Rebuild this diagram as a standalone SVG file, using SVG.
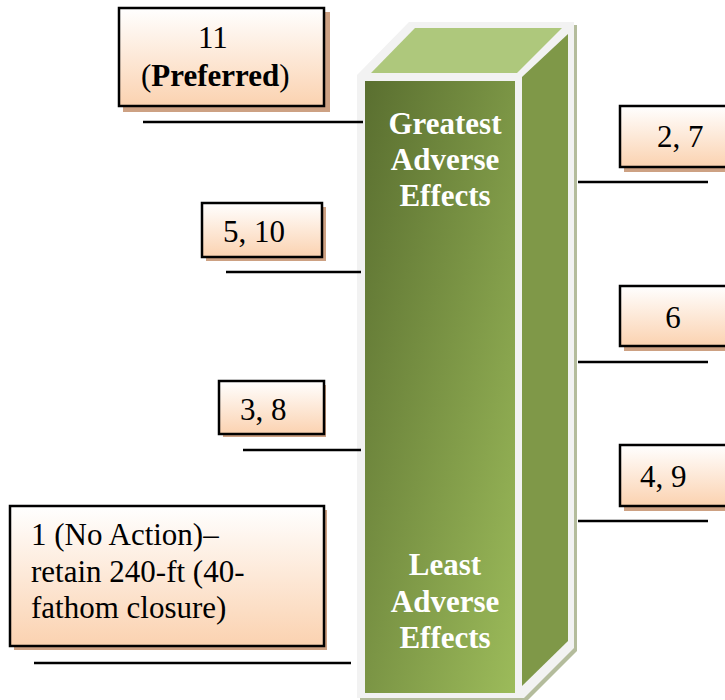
<svg xmlns="http://www.w3.org/2000/svg" width="725" height="700" viewBox="0 0 725 700">
<defs>
<linearGradient id="peach" x1="0" y1="0" x2="0" y2="1">
<stop offset="0" stop-color="#ffffff"/>
<stop offset="1" stop-color="#fbd2b0"/>
</linearGradient>
<linearGradient id="front" x1="0" y1="0" x2="1" y2="1">
<stop offset="0" stop-color="#5a6f30"/>
<stop offset="1" stop-color="#9cbb5a"/>
</linearGradient>
</defs>
<style>
.box{fill:url(#peach);stroke:#000;stroke-width:2.5}
.shadow{fill:#cda183}
.t{font-family:"Liberation Serif","Times New Roman",serif;font-size:31px;fill:#000}
.w{font-family:"Liberation Serif","Times New Roman",serif;font-size:31px;font-weight:bold;fill:#fff;text-anchor:middle}
.conn line{stroke:#000;stroke-width:2.5}
</style>
<rect width="725" height="700" fill="#fff"/>
<g id="column">
<polygon points="360,78 412,25 577,25 577,651 527,701 360,701" fill="#b4bc9c"/>
<polygon points="357,75 409,22 574,22 574,648 524,698 357,698" fill="#f2f2f2"/>
<polygon points="371,73 415,28 562,28 517,73" fill="#aec87c"/>
<rect x="365" y="81" width="150" height="612" fill="url(#front)"/>
<polygon points="522,77 568,34 568,641 522,686" fill="#7f9848"/>
<text class="w" x="445" y="134">Greatest</text>
<text class="w" x="445" y="170">Adverse</text>
<text class="w" x="445" y="206">Effects</text>
<text class="w" x="445" y="575">Least</text>
<text class="w" x="445" y="612">Adverse</text>
<text class="w" x="445" y="648">Effects</text>
</g>
<g id="n11">
<rect class="shadow" x="123" y="12" width="207" height="100"/>
<rect class="box" x="119" y="8" width="205" height="98"/>
<text class="t" x="198" y="48">11</text>
<text class="t" x="141" y="86">(<tspan font-weight="bold">Preferred</tspan>)</text>
</g>
<g id="n510">
<rect class="shadow" x="206" y="207" width="120" height="54"/>
<rect class="box" x="202" y="203" width="120" height="54"/>
<text class="t" x="223" y="242">5, 10</text>
</g>
<g id="n38">
<rect class="shadow" x="223" y="385" width="103" height="52"/>
<rect class="box" x="219" y="381" width="105" height="53"/>
<text class="t" x="240" y="420">3, 8</text>
</g>
<g id="n1">
<rect class="shadow" x="14" y="510" width="313" height="140"/>
<rect class="box" x="10" y="506" width="314" height="140"/>
<text class="t" x="31" y="545">1 (No Action)–</text>
<text class="t" x="31" y="582">retain 240-ft (40-</text>
<text class="t" x="31" y="618">fathom closure)</text>
</g>
<g id="n27">
<rect class="shadow" x="624" y="111" width="120" height="61"/>
<rect class="box" x="620" y="106" width="120" height="61"/>
<text class="t" x="657" y="147">2, 7</text>
</g>
<g id="n6">
<rect class="shadow" x="624" y="291" width="120" height="60"/>
<rect class="box" x="620" y="286" width="120" height="60"/>
<text class="t" x="673" y="328" text-anchor="middle">6</text>
</g>
<g id="n49">
<rect class="shadow" x="624" y="450" width="120" height="61"/>
<rect class="box" x="620" y="445" width="120" height="61"/>
<text class="t" x="640" y="487">4, 9</text>
</g>
<g class="conn" id="connectors">
<line x1="143" y1="122" x2="363" y2="122"/>
<line x1="226" y1="272" x2="361" y2="272"/>
<line x1="243" y1="450" x2="361" y2="450"/>
<line x1="34" y1="663" x2="351" y2="663"/>
<line x1="578" y1="182" x2="708" y2="182"/>
<line x1="578" y1="362" x2="708" y2="362"/>
<line x1="578" y1="521" x2="708" y2="521"/>
</g>
</svg>
